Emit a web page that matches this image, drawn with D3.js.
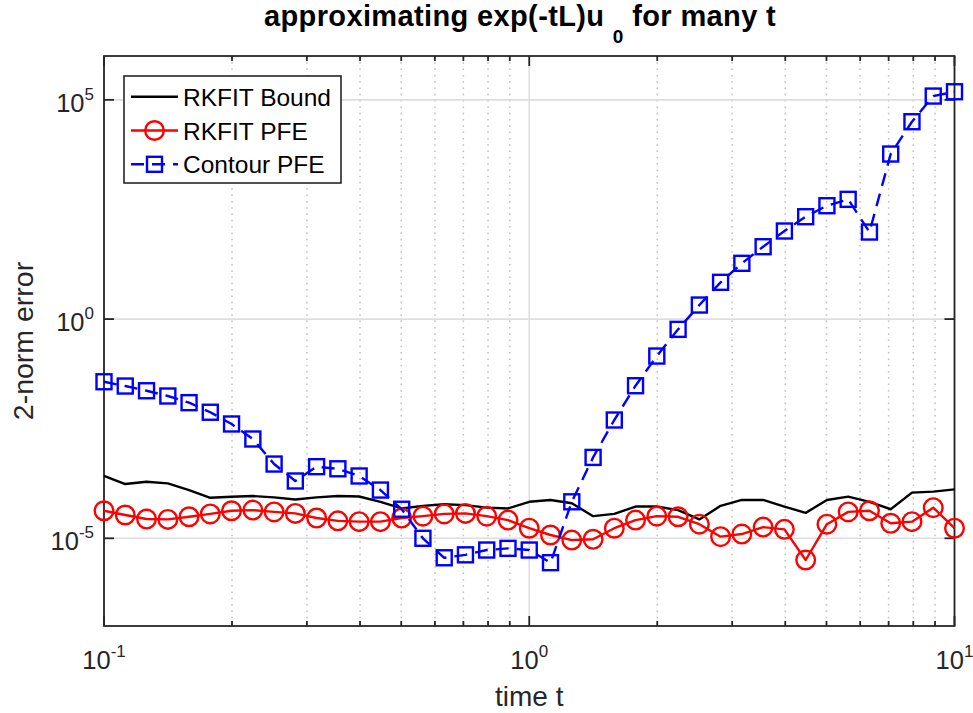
<!DOCTYPE html>
<html><head><meta charset="utf-8">
<script src="https://cdn.jsdelivr.net/npm/d3@7"></script>
<style>
html,body{margin:0;padding:0;background:#fff;}
svg{display:block;font-family:"Liberation Sans",Arial,Helvetica,sans-serif;}
</style></head><body>
<svg id="chart" width="973" height="713"></svg>
<script>
// ---- data ----
const tValues = [0.1, 0.1122, 0.1259, 0.1413, 0.1585, 0.1778, 0.1995, 0.2239, 0.2512, 0.2818,
  0.3162, 0.3548, 0.3981, 0.4467, 0.5012, 0.5623, 0.6310, 0.7079, 0.7943, 0.8913,
  1.0, 1.122, 1.259, 1.413, 1.585, 1.778, 1.995, 2.239, 2.512, 2.818,
  3.162, 3.548, 3.981, 4.467, 5.012, 5.623, 6.310, 7.079, 7.943, 8.913, 10.0];
const boundValues = [2.64e-4, 1.73e-4, 1.95e-4, 1.79e-4, 1.26e-4, 8.4e-5, 8.9e-5, 9.2e-5, 8.6e-5, 7.7e-5,
  8.6e-5, 9.2e-5, 9.0e-5, 6.8e-5, 4.8e-5, 5.5e-5, 6.0e-5, 5.7e-5, 5.0e-5, 4.8e-5,
  6.8e-5, 7.5e-5, 6.3e-5, 3.2e-5, 3.6e-5, 5.3e-5, 5.3e-5, 4.4e-5, 2.7e-5, 5.5e-5,
  7.5e-5, 7.5e-5, 5.3e-5, 3.8e-5, 7.5e-5, 8.9e-5, 6.8e-5, 4.6e-5, 1.10e-4, 1.16e-4, 1.31e-4];
const rkfitValues = [4.25e-5, 3.4e-5, 2.75e-5, 2.7e-5, 3.1e-5, 3.6e-5, 4.25e-5, 4.4e-5, 4.0e-5, 3.7e-5,
  2.9e-5, 2.5e-5, 2.4e-5, 2.4e-5, 2.9e-5, 3.2e-5, 3.6e-5, 3.7e-5, 3.2e-5, 2.6e-5,
  1.7e-5, 1.19e-5, 9.1e-6, 9.5e-6, 1.7e-5, 2.6e-5, 3.2e-5, 3.1e-5, 2.1e-5, 1.09e-5,
  1.25e-5, 1.8e-5, 1.6e-5, 3.2e-6, 2.1e-5, 4.0e-5, 4.25e-5, 2.2e-5, 2.4e-5, 5.0e-5, 1.7e-5];
const contourValues = [3.72e-2, 2.97e-2, 2.32e-2, 1.76e-2, 1.24e-2, 7.5e-3, 4.05e-3, 1.84e-3, 4.94e-4, 2.03e-4,
  4.3e-4, 3.85e-4, 2.64e-4, 1.26e-4, 4.6e-5, 1.0e-5, 3.6e-6, 4.2e-6, 5.4e-6, 5.9e-6,
  5.4e-6, 2.78e-6, 6.8e-5, 7.0e-4, 4.99e-3, 3.02e-2, 0.1435, 0.583, 2.09, 6.89,
  18.7, 44.7, 102, 216, 385, 538, 96.6, 5810, 31700, 122000, 153000];
const seriesNames = ["RKFIT Bound", "RKFIT PFE", "Contour PFE"];
const xTickExps = ["-1", "0", "1"];
const yTickExps = ["-5", "0", "5"];
const xLabel = "time t";
const yLabel = "2-norm error";

// ---- layout ----
const L = 104, R = 954.5, T = 56, B = 626;
const svg = d3.select("#chart");
svg.append("rect").attr("width", 973).attr("height", 713).attr("fill", "#fff");

const x = d3.scaleLog().domain([0.1, 10]).range([L, R]);
const y = d3.scaleLog().domain([1e-7, 1e6]).range([B, T]);

const xMajor = xTickExps.map(e => Math.pow(10, +e));
const yMajor = yTickExps.map(e => Math.pow(10, +e));
const xMinor = [];
[0.1, 1].forEach(d => { for (let k = 2; k <= 9; k++) xMinor.push(k * d); });

// grid
const g = svg.append("g");
g.selectAll(".mg").data(xMinor).enter().append("line")
  .attr("x1", d => x(d)).attr("x2", d => x(d)).attr("y1", T).attr("y2", B)
  .attr("stroke", "#bdbdbd").attr("stroke-width", 1.5).attr("stroke-dasharray", "1.5,4.8");
g.selectAll(".gx").data(xMajor).enter().append("line")
  .attr("x1", d => x(d)).attr("x2", d => x(d)).attr("y1", T).attr("y2", B)
  .attr("stroke", "#dedede").attr("stroke-width", 1.6);
g.selectAll(".gy").data(yMajor).enter().append("line")
  .attr("y1", d => y(d)).attr("y2", d => y(d)).attr("x1", L).attr("x2", R)
  .attr("stroke", "#dedede").attr("stroke-width", 1.6);

// axes box and ticks
const axc = "#262626";
const ax = svg.append("g").attr("stroke", axc).attr("stroke-width", 1.8).attr("fill", "none");
ax.append("rect").attr("x", L).attr("y", T).attr("width", R - L).attr("height", B - T);
xMajor.forEach(v => {
  ax.append("line").attr("x1", x(v)).attr("x2", x(v)).attr("y1", B).attr("y2", B - 10);
  ax.append("line").attr("x1", x(v)).attr("x2", x(v)).attr("y1", T).attr("y2", T + 10);
});
xMinor.forEach(v => {
  ax.append("line").attr("x1", x(v)).attr("x2", x(v)).attr("y1", B).attr("y2", B - 5);
  ax.append("line").attr("x1", x(v)).attr("x2", x(v)).attr("y1", T).attr("y2", T + 5);
});
yMajor.forEach(v => {
  ax.append("line").attr("y1", y(v)).attr("y2", y(v)).attr("x1", L).attr("x2", L + 10);
  ax.append("line").attr("y1", y(v)).attr("y2", y(v)).attr("x1", R).attr("x2", R - 10);
});

function powLabel(sel, exp) {
  sel.append("tspan").text("10");
  sel.append("tspan").attr("dy", -12).attr("font-size", 17).text(exp);
}
xTickExps.forEach((e, i) => {
  const t = svg.append("text").attr("x", x(xMajor[i])).attr("y", 669)
    .attr("text-anchor", "middle").attr("font-size", 25.5).attr("fill", axc);
  powLabel(t, e);
});
yTickExps.forEach((e, i) => {
  const t = svg.append("text").attr("x", 94).attr("y", y(yMajor[i]) + 12)
    .attr("text-anchor", "end").attr("font-size", 25.5).attr("fill", axc);
  powLabel(t, e);
});

svg.append("text").attr("x", (L + R) / 2).attr("y", 706).attr("text-anchor", "middle")
  .attr("font-size", 28).attr("fill", axc).text(xLabel);
svg.append("text").attr("transform", `translate(33,${(T + B) / 2}) rotate(-90)`)
  .attr("text-anchor", "middle").attr("font-size", 28.5).attr("fill", axc).text(yLabel);

// title
const title = svg.append("text").attr("x", 264).attr("y", 26).attr("font-size", 29)
  .attr("font-weight", "bold").attr("fill", "#000").attr("letter-spacing", 0.37);
title.append("tspan").text("approximating exp(-tL)u ");
title.append("tspan").attr("dy", 17).attr("font-size", 19).text("0");
title.append("tspan").attr("dy", -17).text(" for many t");

// data
const series = [
  {name: seriesNames[0], vals: boundValues, color: "#000000", dash: null, marker: null},
  {name: seriesNames[1], vals: rkfitValues, color: "#ff0000", dash: null, marker: "circle"},
  {name: seriesNames[2], vals: contourValues, color: "#0000ff", dash: "13,8", marker: "square"}
];
const line = d3.line().x(d => x(d[0])).y(d => y(d[1]));
function drawMarker(sel, type, cx, cy, color) {
  if (type === "circle") {
    sel.append("circle").attr("cx", cx).attr("cy", cy).attr("r", 9.3)
      .attr("fill", "none").attr("stroke", color).attr("stroke-width", 2.4);
  } else if (type === "square") {
    sel.append("rect").attr("x", cx - 7.5).attr("y", cy - 7.5).attr("width", 15).attr("height", 15)
      .attr("fill", "none").attr("stroke", color).attr("stroke-width", 2.4);
  }
}
series.forEach(s => {
  const pts = tValues.map((t, i) => [t, s.vals[i]]);
  const gs = svg.append("g");
  gs.append("path").attr("d", line(pts)).attr("fill", "none").attr("stroke", s.color)
    .attr("stroke-width", 2.4).attr("stroke-dasharray", s.dash).attr("stroke-linejoin", "round");
  if (s.marker) pts.forEach(p => drawMarker(gs, s.marker, x(p[0]), y(p[1]), s.color));
});

// legend
const lg = svg.append("g");
lg.append("rect").attr("x", 124).attr("y", 76).attr("width", 217).attr("height", 107)
  .attr("fill", "#fff").attr("stroke", axc).attr("stroke-width", 1.6);
series.forEach((s, i) => {
  const cy = 96.7 + i * 33.8;
  lg.append("line").attr("x1", 131).attr("x2", 178).attr("y1", cy).attr("y2", cy)
    .attr("stroke", s.color).attr("stroke-width", 2.4).attr("stroke-dasharray", s.dash);
  if (s.marker) drawMarker(lg, s.marker, 154.5, cy, s.color);
  lg.append("text").attr("x", 183).attr("y", cy + 9).attr("font-size", 24.5)
    .attr("fill", "#000").text(s.name);
});
</script>
</body></html>
